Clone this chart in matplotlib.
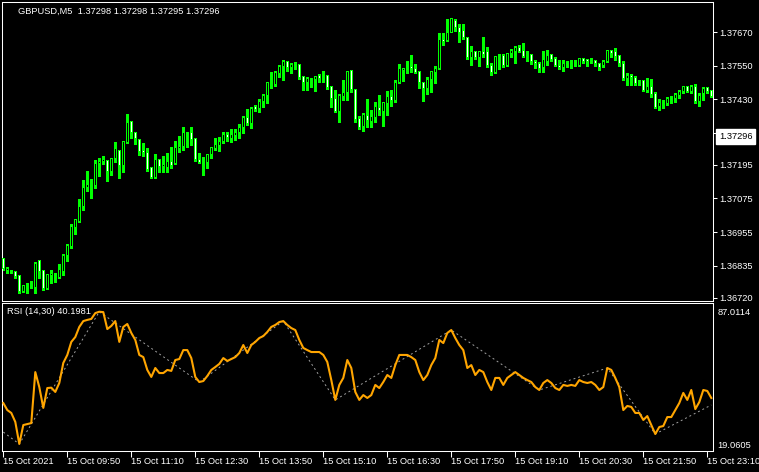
"""GBPUSD M5 candles with an RSI(14,30) pane, MetaTrader style (black background)."""
import numpy as np
import matplotlib
matplotlib.use("Agg")
import matplotlib.pyplot as plt

GREEN = "#00FF00"
ORANGE = "#FFA500"
GRID = "#A0A0A0"
WHITE = "#FFFFFF"

plt.rcParams.update({
    "font.family": "Liberation Sans",
    "font.size": 6.7,
    "text.color": WHITE,
})

# candle prices in points (1e-5), bar 0 = 15 Oct 08:30, 5 minute bars
open_pts = [
    136859, 136816, 136816, 136812, 136798, 136741, 136759, 136759, 136758, 136852,
    136816, 136751, 136798, 136791, 136791, 136812, 136870, 136902, 136970, 136991,
    137045, 137113, 137120, 137120, 137199, 137206, 137210, 137170, 137217, 137245,
    137192, 137274, 137349, 137313, 137285, 137245, 137238, 137185, 137149, 137213,
    137188, 137185, 137206, 137199, 137253, 137260, 137313, 137313, 137288, 137213,
    137203, 137203, 137231, 137253, 137263, 137278, 137303, 137288, 137299, 137313,
    137328, 137364, 137342, 137403, 137396, 137421, 137442, 137492, 137482, 137521,
    137546, 137564, 137543, 137553, 137553, 137510, 137492, 137503, 137500, 137514,
    137503, 137514, 137475, 137432, 137385, 137439, 137453, 137532, 137464, 137360,
    137331, 137371, 137349, 137364, 137399, 137385, 137414, 137439, 137424, 137489,
    137532, 137539, 137546, 137539, 137528, 137489, 137467, 137500, 137525, 137539,
    137643, 137639, 137671, 137711, 137686, 137675, 137650, 137578, 137600, 137578,
    137600, 137600, 137550, 137525, 137582, 137586, 137550, 137593, 137600, 137614,
    137603, 137586, 137589, 137564, 137560, 137543, 137564, 137589, 137575, 137550,
    137543, 137557, 137553, 137553, 137550, 137575, 137571, 137564, 137568, 137557,
    137550, 137564, 137603, 137600, 137586, 137557, 137503, 137514, 137507, 137485,
    137496, 137460, 137475, 137450, 137403, 137414, 137414, 137432, 137432, 137442,
    137457, 137475, 137457, 137475, 137421, 137450, 137471, 137460,
]
high_pts = [
    136862, 136830, 136819, 136816, 136802, 136762, 136773, 136780, 136848, 136855,
    136819, 136802, 136819, 136809, 136841, 136877, 136912, 136984, 136998, 137074,
    137142, 137174, 137145, 137213, 137220, 137228, 137210, 137217, 137278, 137249,
    137281, 137378, 137349, 137313, 137288, 137274, 137256, 137188, 137235, 137213,
    137228, 137238, 137260, 137281, 137299, 137331, 137313, 137331, 137288, 137238,
    137224, 137235, 137256, 137292, 137295, 137313, 137313, 137324, 137324, 137342,
    137371, 137396, 137403, 137410, 137432, 137450, 137492, 137528, 137532, 137553,
    137571, 137568, 137560, 137564, 137557, 137514, 137510, 137503, 137514, 137521,
    137532, 137518, 137478, 137464, 137450, 137500, 137532, 137535, 137464, 137371,
    137381, 137432, 137392, 137421, 137446, 137421, 137460, 137464, 137500, 137557,
    137539, 137568, 137589, 137557, 137528, 137489, 137510, 137532, 137550, 137668,
    137668, 137718, 137722, 137718, 137700, 137700, 137654, 137621, 137603, 137600,
    137654, 137618, 137560, 137582, 137593, 137593, 137593, 137611, 137621, 137625,
    137632, 137603, 137593, 137571, 137564, 137603, 137607, 137593, 137582, 137571,
    137571, 137568, 137571, 137571, 137575, 137578, 137571, 137578, 137571, 137557,
    137571, 137603, 137607, 137614, 137586, 137568, 137525, 137521, 137514, 137500,
    137500, 137507, 137503, 137457, 137432, 137428, 137439, 137442, 137453, 137464,
    137478, 137478, 137482, 137485, 137453, 137475, 137475, 137464,
]
low_pts = [
    136819, 136809, 136809, 136791, 136737, 136741, 136737, 136755, 136737, 136791,
    136748, 136751, 136773, 136776, 136791, 136802, 136852, 136898, 136948, 136991,
    137034, 137102, 137077, 137113, 137156, 137199, 137138, 137160, 137206, 137149,
    137170, 137274, 137292, 137270, 137231, 137228, 137174, 137149, 137149, 137170,
    137170, 137170, 137185, 137199, 137242, 137249, 137260, 137267, 137210, 137203,
    137160, 137185, 137220, 137249, 137245, 137274, 137281, 137278, 137285, 137292,
    137310, 137339, 137328, 137389, 137385, 137403, 137417, 137471, 137478, 137510,
    137500, 137532, 137525, 137539, 137503, 137464, 137464, 137475, 137460, 137492,
    137492, 137467, 137403, 137385, 137349, 137428, 137428, 137457, 137349, 137324,
    137317, 137331, 137331, 137349, 137374, 137335, 137374, 137406, 137421, 137489,
    137496, 137525, 137528, 137525, 137471, 137424, 137450, 137457, 137489, 137539,
    137625, 137639, 137671, 137675, 137636, 137646, 137575, 137553, 137575, 137550,
    137582, 137546, 137518, 137525, 137539, 137546, 137550, 137582, 137560, 137600,
    137582, 137568, 137557, 137543, 137528, 137528, 137553, 137568, 137550, 137539,
    137532, 137546, 137543, 137550, 137550, 137560, 137550, 137560, 137550, 137535,
    137546, 137564, 137582, 137571, 137550, 137500, 137482, 137482, 137482, 137482,
    137460, 137457, 137439, 137399, 137392, 137399, 137410, 137417, 137421, 137435,
    137453, 137457, 137453, 137417, 137406, 137428, 137453, 137439,
]
close_pts = [
    136823, 136823, 136812, 136794, 136741, 136762, 136758, 136760, 136844, 136812,
    136751, 136802, 136805, 136794, 136819, 136870, 136905, 136973, 136998, 137048,
    137116, 137124, 137122, 137199, 137206, 137213, 137170, 137217, 137253, 137192,
    137278, 137346, 137313, 137288, 137242, 137238, 137177, 137149, 137213, 137188,
    137195, 137206, 137192, 137256, 137260, 137313, 137311, 137285, 137213, 137203,
    137204, 137231, 137256, 137270, 137278, 137303, 137295, 137303, 137313, 137328,
    137364, 137342, 137396, 137392, 137421, 137442, 137492, 137485, 137525, 137546,
    137564, 137543, 137553, 137550, 137507, 137492, 137503, 137501, 137510, 137503,
    137505, 137471, 137432, 137385, 137442, 137453, 137528, 137464, 137356, 137328,
    137374, 137353, 137367, 137403, 137389, 137417, 137439, 137424, 137489, 137539,
    137539, 137543, 137539, 137525, 137489, 137467, 137500, 137528, 137539, 137643,
    137636, 137671, 137718, 137686, 137671, 137650, 137578, 137600, 137578, 137600,
    137589, 137550, 137525, 137582, 137586, 137550, 137593, 137603, 137614, 137600,
    137582, 137585, 137564, 137560, 137539, 137571, 137586, 137571, 137550, 137543,
    137557, 137555, 137557, 137552, 137575, 137564, 137564, 137568, 137557, 137543,
    137564, 137603, 137593, 137582, 137560, 137503, 137514, 137507, 137485, 137492,
    137460, 137475, 137446, 137399, 137417, 137417, 137432, 137435, 137446, 137457,
    137475, 137457, 137475, 137421, 137442, 137467, 137457, 137439,
]

# RSI(14) per bar
rsi = [
    40.1, 36.5, 35.0, 30.4, 19.1, 28.8, 29.3, 29.8, 56.0, 48.3,
    37.6, 47.8, 48.0, 45.8, 50.4, 60.7, 64.8, 71.5, 74.0, 79.2,
    82.2, 82.8, 83.3, 86.3, 87.0, 86.8, 78.1, 79.7, 82.2, 71.5,
    79.2, 80.7, 76.1, 72.5, 64.8, 63.7, 57.1, 53.5, 58.1, 55.5,
    55.5, 57.1, 56.6, 62.2, 62.7, 67.3, 67.3, 63.2, 53.5, 50.9,
    51.4, 54.0, 57.1, 58.6, 60.2, 63.2, 61.7, 62.7, 63.7, 65.8,
    69.9, 65.8, 69.9, 71.5, 73.5, 74.5, 76.6, 79.2, 80.2, 81.7,
    82.2, 80.2, 78.6, 77.6, 72.5, 68.4, 67.3, 66.3, 66.3, 66.3,
    64.8, 61.2, 51.9, 41.7, 49.4, 53.0, 62.2, 58.1, 45.8, 41.7,
    44.2, 42.7, 44.2, 49.4, 47.8, 50.9, 54.5, 53.0, 59.6, 64.8,
    64.8, 64.8, 63.7, 62.2, 56.0, 51.9, 54.5, 59.6, 63.2, 72.5,
    70.9, 76.1, 77.6, 73.5, 69.9, 67.3, 58.1, 59.6, 54.5, 57.1,
    56.0, 50.9, 46.8, 53.0, 53.0, 49.4, 53.0, 54.5, 56.0, 54.5,
    53.0, 51.9, 50.9, 48.3, 46.8, 50.4, 51.9, 50.4, 47.8, 46.8,
    49.4, 48.9, 49.4, 48.9, 51.9, 50.9, 50.4, 50.9, 49.4, 46.8,
    48.3, 58.1, 57.1, 53.0, 48.3, 36.5, 38.6, 38.1, 35.0, 35.0,
    31.4, 33.4, 28.8, 24.2, 27.8, 28.3, 32.9, 32.9, 36.5, 40.1,
    45.3, 41.7, 46.8, 37.0, 40.6, 46.8, 46.3, 42.7,
]

# dotted swing line over the RSI
swing_bars = [0, 4, 24, 49, 70, 83, 112, 134, 151, 163, 177]
swing_vals = [25.2, 19.06, 87.0, 50.9, 82.2, 41.7, 77.6, 46.8, 58.1, 24.2, 39.1]

price_ticks = [1.36720, 1.36835, 1.36955, 1.37075, 1.37195, 1.37310,
               1.37430, 1.37550, 1.37670]
bid_price = 1.37296
rsi_ticks = [19.0605, 87.0114]
time_tick_bars = [0, 16, 32, 48, 64, 80, 96, 112, 128, 144, 160, 176]
time_labels = ["15 Oct 2021", "15 Oct 09:50", "15 Oct 11:10", "15 Oct 12:30",
               "15 Oct 13:50", "15 Oct 15:10", "15 Oct 16:30", "15 Oct 17:50",
               "15 Oct 19:10", "15 Oct 20:30", "15 Oct 21:50", "15 Oct 23:10"]

W, H = 759, 472
fig = plt.figure(figsize=(W / 100, H / 100), dpi=100, facecolor="black")
ax = fig.add_axes([2 / W, 1 - 301 / H, 711 / W, 299 / H], facecolor="black")
ax2 = fig.add_axes([2 / W, 1 - 451 / H, 711 / W, 148 / H], facecolor="black")

XLIM = (-0.325, 177.425)
YLIM = (1.367080, 1.377784)
px = (YLIM[1] - YLIM[0]) / 299      # price of one screen pixel
bar_px = (XLIM[1] - XLIM[0]) / 711  # bars per screen pixel

o = np.array(open_pts) / 1e5
h = np.array(high_pts) / 1e5
l = np.array(low_pts) / 1e5
c = np.array(close_pts) / 1e5
x = np.arange(len(o))
bull = c >= o
body_lo = np.minimum(o, c)
body_hi = np.maximum(o, c)

# wick, then a 3 px green body, then a 1 px core (black = up bar, white = down bar)
ax.vlines(x, l, h, color=GREEN, lw=0.75, antialiased=False, zorder=2)
ax.bar(x, body_hi - body_lo + px, bottom=body_lo - px / 2, width=3 * bar_px,
       color=GREEN, linewidth=0, antialiased=False, zorder=3)
core_h = body_hi - body_lo - px
has_core = core_h > 0
ax.bar(x[has_core], core_h[has_core], bottom=body_lo[has_core] + px / 2,
       width=bar_px, color=np.where(bull, "black", "white")[has_core],
       linewidth=0, antialiased=False, zorder=4)

ax2.plot(x, rsi, color=ORANGE, lw=1.5, zorder=3)
ax2.plot(swing_bars, swing_vals, color=GRID, lw=0.7, ls=(0, (2, 3)), zorder=2)

for a in (ax, ax2):
    a.set_xlim(*XLIM)
    for s in a.spines.values():
        s.set_color(WHITE)
        s.set_linewidth(0.75)

ax.set_ylim(*YLIM)
ax2.set_ylim(15.47, 91.48)

ax.set_xticks([])
ax.yaxis.tick_right()
ax.set_yticks(price_ticks, [f"{p:.5f}" for p in price_ticks])
ax.tick_params(axis="y", colors=WHITE, length=3, width=0.75, pad=1.5, labelsize=6.7)

ax2.yaxis.tick_right()
ax2.set_yticks(rsi_ticks, [f"{v:.4f}" for v in rsi_ticks])
ax2.tick_params(axis="y", colors=WHITE, length=0, pad=3, labelsize=6.7)
ax2.set_xticks(time_tick_bars, time_labels)
ax2.tick_params(axis="x", colors=WHITE, length=4, width=0.75, pad=0.5, labelsize=6.7)
for lbl in ax2.get_xticklabels():
    lbl.set_ha("left")

ax.annotate(f"{bid_price:.5f}", xy=(1, bid_price), xycoords=("axes fraction", "data"),
            xytext=(6, 0), textcoords="offset pixels", ha="left", va="center",
            color="black", fontsize=6.7, zorder=10, annotation_clip=False,
            bbox=dict(boxstyle="square,pad=0.3", fc="white", ec="white"))

fig.text(18 / W, 1 - 11 / H, "GBPUSD,M5  1.37298 1.37298 1.37295 1.37296",
         ha="left", va="center", color=WHITE)
fig.text(7 / W, 1 - 312 / H, "RSI (14,30) 40.1981", ha="left", va="center",
         color=WHITE)

fig.savefig("out.png", dpi=100, facecolor="black")
